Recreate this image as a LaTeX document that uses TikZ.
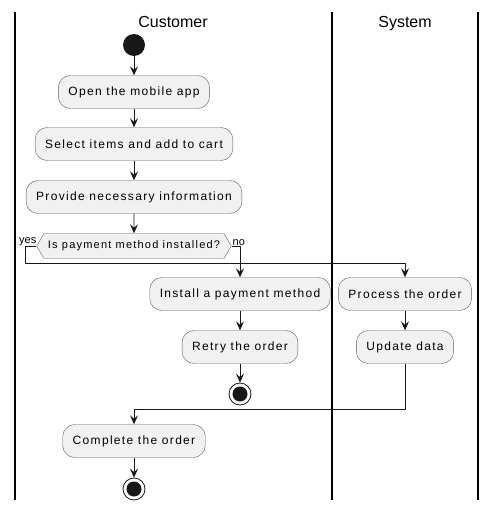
\documentclass[tikz,border=0pt]{standalone}
\usepackage{fontspec}
\setmainfont{Liberation Sans}
\newfontfamily\actfont[LetterSpace=11]{Liberation Sans}
\usetikzlibrary{arrows.meta,shapes.symbols}
\definecolor{actfill}{HTML}{F1F1F1}
\definecolor{actline}{HTML}{181818}
\begin{document}
\begin{tikzpicture}[x=1pt,y=-1pt, line join=round,
	arr/.style={draw=actline, thick, -{Stealth[length=9pt,width=8pt,inset=3.5pt]}},
	act/.style={rectangle, rounded corners=12pt, draw=actline!70, fill=actfill, minimum height=33pt, inner xsep=10pt, font=\actfont\fontsize{12}{14}\selectfont},
	cond/.style={signal, signal to=east and west, signal pointer angle=120, draw=actline!70, fill=actfill, minimum height=25pt, inner xsep=4pt, font=\actfont\fontsize{11}{13}\selectfont},
	startnode/.style={circle, fill=actline, minimum size=22pt, inner sep=0pt},
	stopnode/.style={circle, draw=actline, thick, fill=white, minimum size=22pt, inner sep=0pt,
		path picture={\fill[actline] (path picture bounding box.center) circle (7.5pt);}},
	lane/.style={draw=black, line width=1.2pt},
	head/.style={font=\fontsize{16}{18}\selectfont, anchor=base, inner sep=0pt},
	small/.style={font=\fontsize{11}{12}\selectfont, inner sep=0pt}]
\useasboundingbox (0,0) rectangle (500,512);
% swimlanes
\foreach \x in {15,332,478} \draw[lane] (\x,12) -- (\x,500);
\node[head] (hcust) at (173,27) {Customer};
\node[head] (hsys) at (405,27) {System};
% Customer
\node[startnode] (start) at (134,45) {};
\node[act] (open) at (134,92) {Open the mobile app};
\node[act] (select) at (134,144) {Select items and add to cart};
\node[act] (provide) at (134,197) {Provide necessary information};
\node[cond] (check) at (134,246) {Is payment method installed?};
\node[act] (install) at (240,294) {Install a payment method};
\node[act] (retry) at (240,347) {Retry the order};
\node[stopnode] (stopa) at (240,394) {};
\node[act] (complete) at (134,441) {Complete the order};
\node[stopnode] (stopb) at (134,489) {};
% System
\node[act] (process) at (405,294) {Process the order};
\node[act] (update) at (405,347) {Update data};
% labels
\node[small, anchor=south east] (yes) at (check.west) {yes};
\node[small, anchor=south west] (no) at ([xshift=1pt]check.east) {no};
\coordinate (ybend) at (25,263);
\coordinate (mjoin) at (405,409);
% flow
\draw[arr] (start) -- (open);
\draw[arr] (open) -- (select);
\draw[arr] (select) -- (provide);
\draw[arr] (provide) -- (check);
\draw[arr] (check.east) -| (install.north);
\draw[arr] (check.west) -| (ybend) -| (process.north);
\draw[arr] (install) -- (retry);
\draw[arr] (retry) -- (stopa);
\draw[arr] (process) -- (update);
\draw[arr] (update.south) -- (mjoin) -| (complete.north);
\draw[arr] (complete) -- (stopb);
\end{tikzpicture}
\end{document}
